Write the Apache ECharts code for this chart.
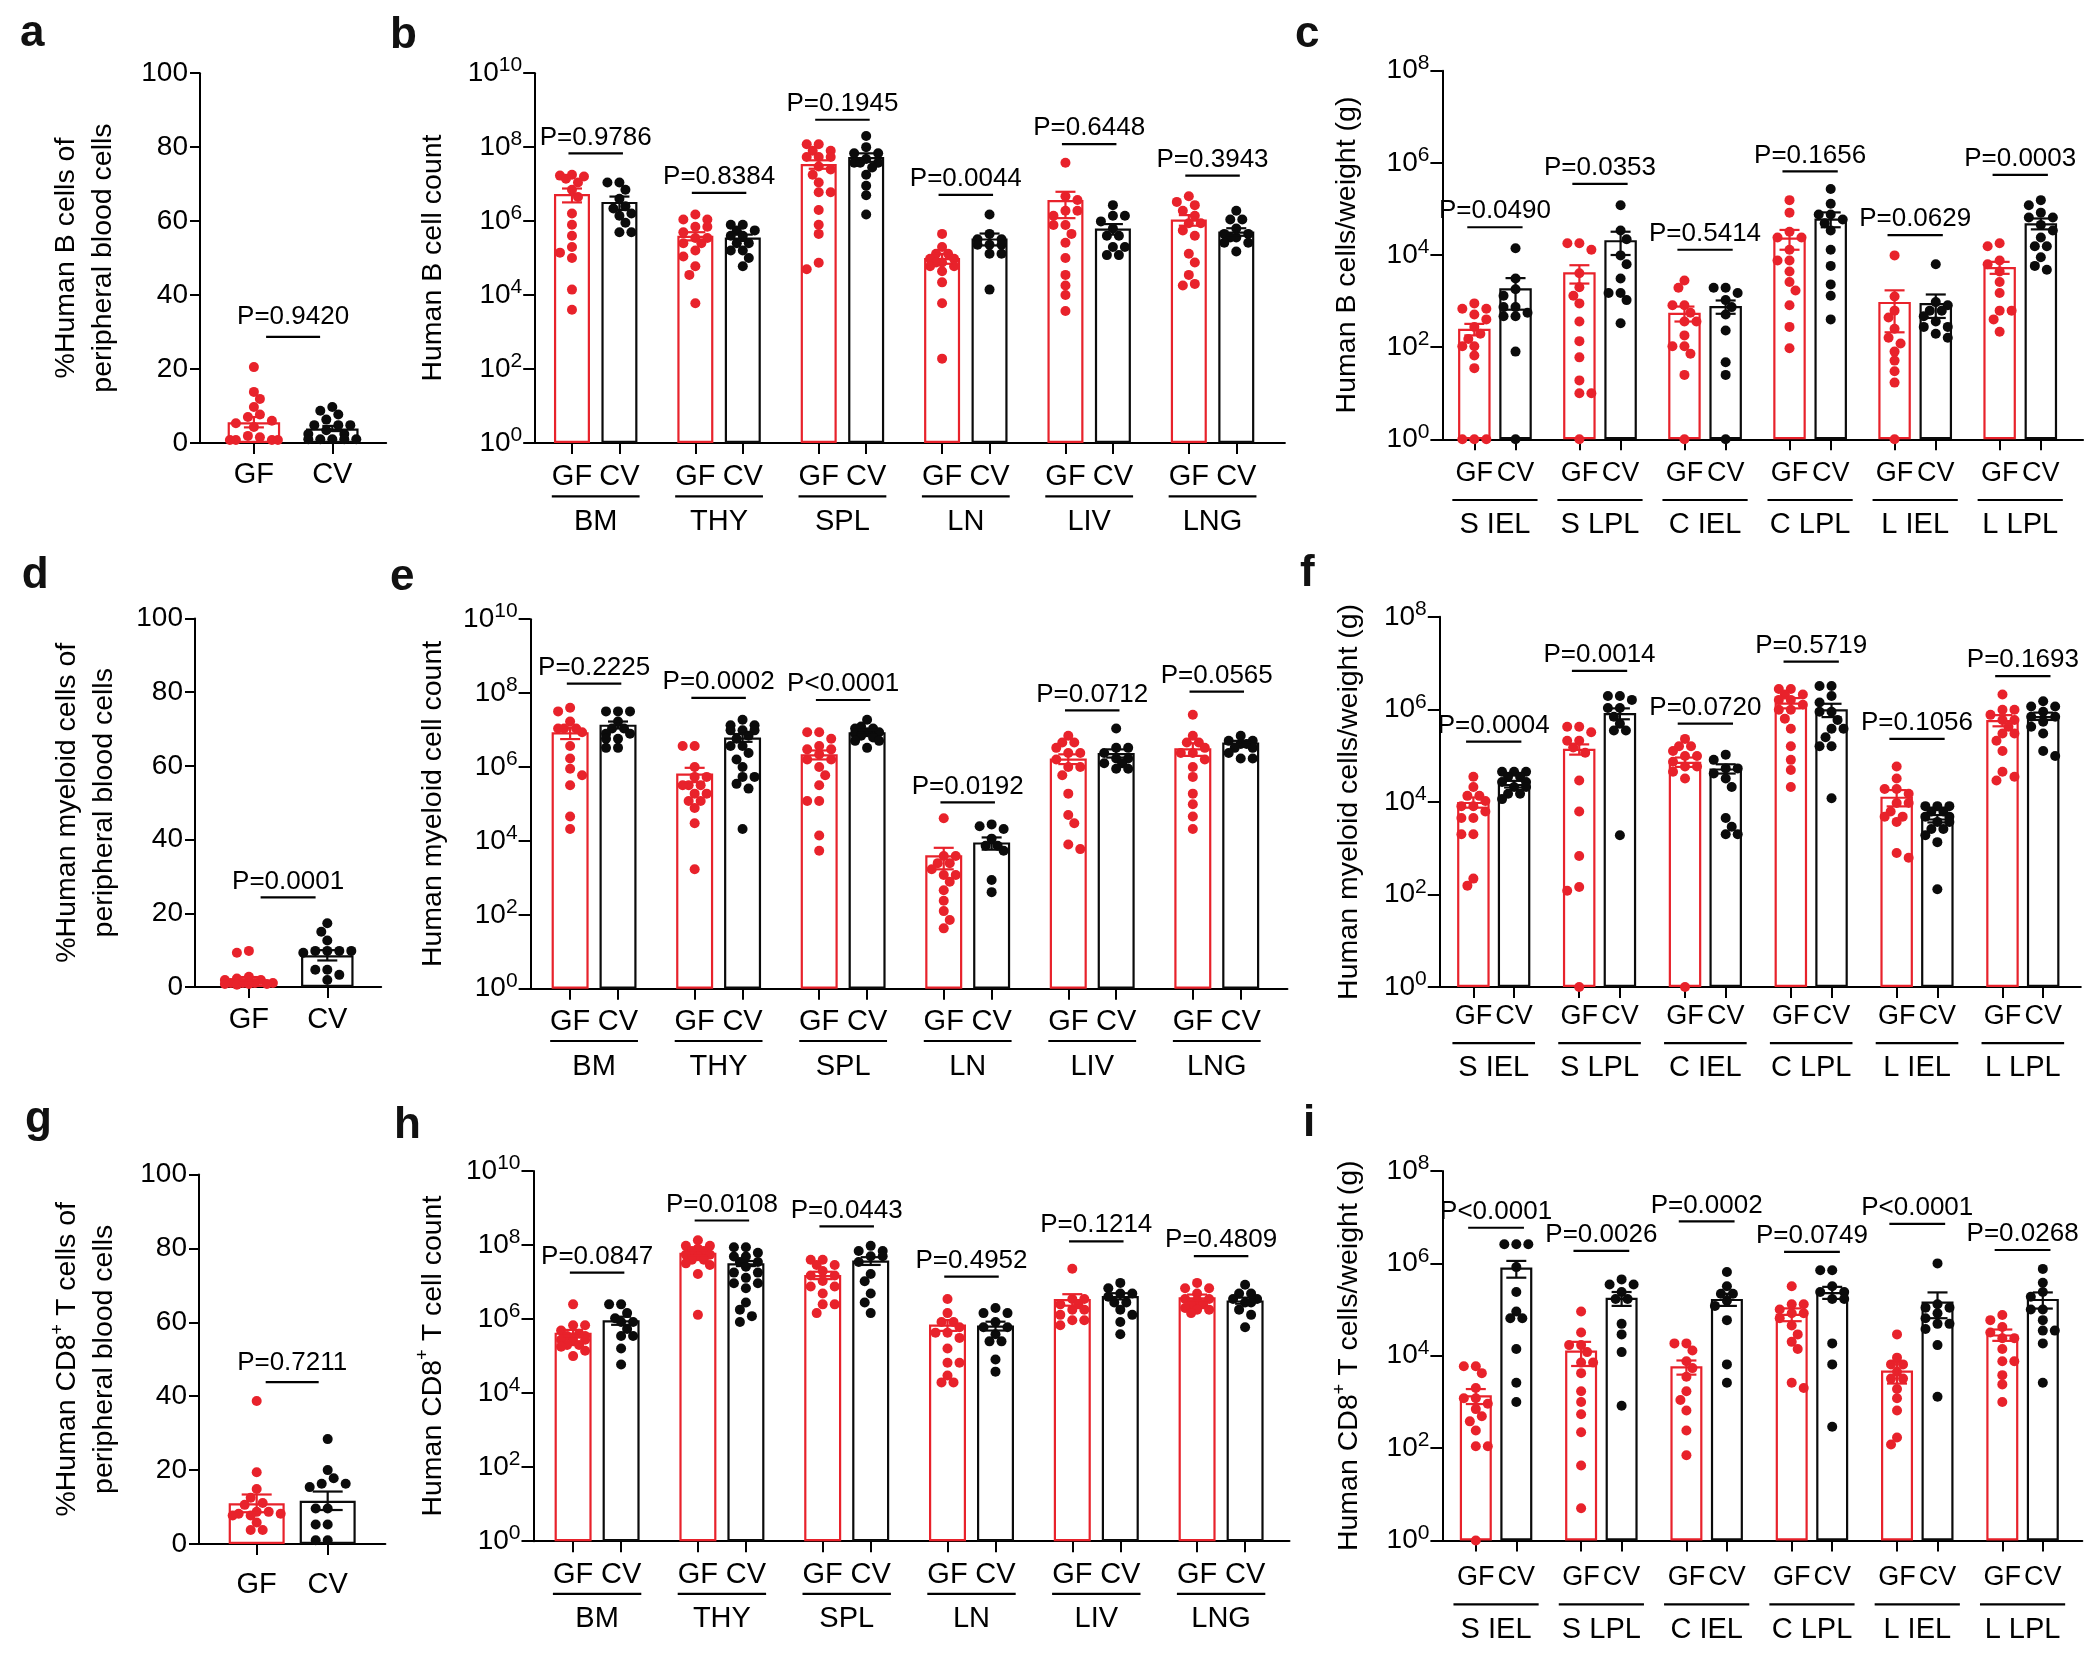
<!DOCTYPE html>
<html>
<head>
<meta charset="utf-8">
<script src="https://cdn.jsdelivr.net/npm/echarts@6/dist/echarts.min.js"></script>
<style>
html,body{margin:0;padding:0;background:#fff;}
#chart{width:2100px;height:1657px;}
</style>
</head>
<body>
<div id="chart"></div>
<script>
// ================= DATA =================
const bloodGroups = ['GF', 'CV'];
const organs = ['BM', 'THY', 'SPL', 'LN', 'LIV', 'LNG'];
const gutSites = ['S IEL', 'S LPL', 'C IEL', 'C LPL', 'L IEL', 'L LPL'];

// ---- a: %Human B cells of peripheral blood cells
const aGF = [20.5, 13.8, 11.9, 9.7, 7.7, 7.0, 6.0, 5.3, 4.3, 1.9, 1.5, 0.8, 0.8, 0.8, 0.8];
const aCV = [9.7, 8.7, 7.7, 6.3, 4.8, 4.8, 4.8, 3.4, 2.4, 2.4, 1.0, 1.0, 1.0, 1.0, 1.0];
const aMean = [5.6, 3.9];
const aSem = [1.4, 0.7];
const aP = ['P=0.9420'];
const aPLevel = [28.7];

// ---- d: %Human myeloid cells of peripheral blood cells
const dGF = [9.8, 9.3, 2.8, 2.3, 1.9, 1.9, 1.1, 1.1, 1.1, 1.1, 0.8, 0.8, 0.8, 0.6];
const dCV = [17.3, 15.0, 12.6, 9.8, 9.8, 9.8, 9.8, 9.3, 4.7, 4.7, 3.3, 1.9];
const dMean = [1.9, 8.6];
const dSem = [0.8, 1.4];
const dP = ['P=0.0001'];
const dPLevel = [24.3];

// ---- g: %Human CD8+ T cells of peripheral blood cells
const gGF = [38.7, 19.4, 14.9, 12.5, 11.1, 10.6, 8.7, 8.7, 8.2, 8.2, 7.7, 7.7, 5.8, 3.8, 3.8];
const gCV = [28.4, 20.0, 17.8, 16.3, 16.3, 15.4, 9.6, 9.6, 5.3, 5.3, 1.0, 1.0];
const gMean = [11.0, 11.7];
const gSem = [2.4, 2.5];
const gP = ['P=0.7211'];
const gPLevel = [43.8];

// ---- b: Human B cell count (organs)
const bGF = [
  [1.8e7,1.7e7,1.6e7,1.4e7,1.1e7,7e6,4.5e6,1.6e6,8e5,4e5,2e5,1.4e5,1e5,1.4e4,4e3],
  [1.5e6,1.1e6,1.1e6,7e5,7e5,5e5,3.5e5,3.5e5,2.5e5,2.5e5,1.6e5,1.1e5,6e4,3.5e4,6e3],
  [1.2e8,1.2e8,8e7,8e7,5.4e7,5.4e7,5.4e7,3e7,2.5e7,1.8e7,1.1e7,6e6,6e6,2e6,8e5,4.5e5,7.5e4,5e4],
  [4.5e5,2e5,1.3e5,1.3e5,9.5e4,9.5e4,7.6e4,7.6e4,6e4,6e4,4.4e4,2.2e4,6e3,190],
  [3.8e7,4.7e6,3.7e6,1.9e6,1.9e6,1.4e6,7.8e5,7.8e5,4.5e5,2.6e5,1e5,3.5e4,1.8e4,1e4,3.7e3],
  [4.7e6,3.3e6,2.7e6,1.9e6,1.4e6,8.7e5,8.7e5,5.6e5,4e5,1.3e5,7.6e4,3.5e4,2e4,1.8e4]
];
const bCV = [
  [1.1e7,1.1e7,7e6,4e6,2.5e6,2.2e6,1.6e6,1.4e6,9e5,5e5,5e5],
  [8e5,8e5,5.6e5,5.6e5,4e5,4e5,2.5e5,2.5e5,1.6e5,1.6e5,1e5,6e4],
  [2e8,1e8,6.8e7,6.8e7,4.8e7,3.8e7,3.8e7,3.8e7,2.8e7,1.8e7,9e6,5e6,1.5e6],
  [1.5e6,4.5e5,3.2e5,3.2e5,2.3e5,2.3e5,2.3e5,1.3e5,1.3e5,1.4e4],
  [2.7e6,1.4e6,1.4e6,9.8e5,6.3e5,4e5,4e5,2e5,2e5,1.2e5,1.2e5],
  [1.9e6,1.1e6,1.1e6,6.3e5,4.5e5,4.5e5,3.6e5,3.6e5,2.6e5,2.6e5,1.5e5]
];
const bMeanGF = [5.4e6, 4e5, 3.5e7, 1e5, 3.7e6, 1.1e6];
const bMeanCV = [3.3e6, 3.6e5, 5.4e7, 3.4e5, 6.3e5, 5.2e5];
const bSemGF = [2.2e6, 1e5, 9e6, 3e4, 2.5e6, 3.5e5];
const bSemCV = [1.3e6, 7e4, 1.4e7, 1.2e5, 2e5, 1.2e5];
const bP = ['P=0.9786','P=0.8384','P=0.1945','P=0.0044','P=0.6448','P=0.3943'];
const bPLevel = [6.8e7, 5.8e6, 5.5e8, 5.1e6, 1.2e8, 1.7e7];

// ---- c: Human B cells/weight (g) (gut)
const cGF = [
  [890,680,680,510,400,275,195,150,105,105,66,35,1,1,1],
  [1.8e4,1.8e4,1.3e4,4e3,2e3,1.3e3,890,360,135,60,19,10,10,1],
  [2.8e3,1.95e3,810,810,560,360,360,180,105,105,72,25,1],
  [1.55e5,8.3e4,3.2e4,2.4e4,2.4e4,1.3e4,7.6e3,7.6e3,4.4e3,2.6e3,1.7e3,810,275,95],
  [9.8e3,1.26e3,620,440,250,160,120,80,51,30,17,1],
  [1.8e4,1.55e4,7.6e3,6.3e3,4.4e3,2.6e3,1.5e3,620,620,400,215]
];
const cCV = [
  [1.4e4,3.1e3,1.8e3,1.3e3,740,740,560,470,470,80,1],
  [1.2e5,3.4e4,2.2e4,9.8e3,6.3e3,3.1e3,1.5e3,1.5e3,1.05e3,330],
  [1.95e3,1.95e3,1.5e3,1.05e3,740,510,230,47,25,1],
  [2.7e5,1.3e5,7.6e4,7.6e4,5.9e4,4.9e4,3.4e4,1.3e4,5.8e3,2.3e3,1.3e3,400],
  [6.3e3,950,810,620,620,470,360,275,275,195,160],
  [1.55e5,1.2e5,8.3e4,6.5e4,6.5e4,4.5e4,3.4e4,2.4e4,1.55e4,1.55e4,8.9e3,5.8e3,4.8e3]
];
const cMeanGF = [250, 4.2e3, 560, 2.4e4, 960, 5.5e3];
const cMeanCV = [1.9e3, 2.1e4, 780, 6.2e4, 910, 4.9e4];
const cSemGF = [70, 1.8e3, 200, 1.1e4, 750, 1.6e3];
const cSemCV = [1.25e3, 1.1e4, 250, 2.2e4, 480, 1.3e4];
const cP = ['P=0.0490','P=0.0353','P=0.5414','P=0.1656','P=0.0629','P=0.0003'];
const cPLevel = [4e4, 3.5e5, 1.3e4, 6.5e5, 2.7e4, 5.5e5];

// ---- e: Human myeloid cell count (organs)
const eGF = [
  [4e7,3.2e7,1.7e7,1.1e7,1.1e7,1.1e7,8.7e6,3.7e6,1.7e6,9e5,6e5,3.2e5,4.6e4,2.1e4],
  [3.7e6,3.7e6,1e6,5.4e5,5.4e5,3.2e5,3.2e5,3.2e5,1.9e5,1.9e5,1.2e5,1.2e5,7.8e4,3e4,1.7e3],
  [8.7e6,8.7e6,5.8e6,3.7e6,3e6,3e6,2.2e6,1.6e6,1.6e6,1e6,6e5,3.2e5,1.2e5,1.2e5,1.4e4,5.4e3],
  [4.1e4,3.9e3,3.9e3,2.5e3,2.5e3,1.7e3,1.2e3,1.2e3,780,460,240,126,72,43],
  [7e6,4.6e6,4.6e6,3.3e6,2.4e6,2.4e6,1.6e6,1e6,1e6,6e5,1.9e5,5e4,3e4,8e3,6e3],
  [2.6e7,7e6,4.6e6,4.6e6,3.3e6,2.4e6,2.4e6,1.6e6,1e6,5.4e5,1.9e5,9.8e4,4.6e4,2.1e4]
];
const eCV = [
  [3.2e7,3.2e7,3.2e7,1.7e7,1.1e7,1.1e7,8e6,8e6,5.8e6,5.8e6,3.3e6,3.3e6],
  [1.9e7,1.35e7,1.35e7,9.8e6,9.8e6,9.8e6,7e6,5.8e6,3.7e6,3.7e6,2.4e6,1.6e6,1e6,5.4e5,5.4e5,3.5e5,2.6e5,2.1e4],
  [1.9e7,1.25e7,1.1e7,1.1e7,8.7e6,8.7e6,8e6,7e6,6.3e6,5.1e6,5.1e6,3.3e6],
  [2.8e4,2.5e4,2.1e4,1.15e4,7.4e3,7.4e3,5.4e3,870,410],
  [1.1e7,3.3e6,3.3e6,2.4e6,1.7e6,1.7e6,1.26e6,1.26e6,9e5,9e5],
  [7e6,5.1e6,5.1e6,4.2e6,4.2e6,3.3e6,3.3e6,2.4e6,1.7e6,1.7e6]
];
const eMeanGF = [8.7e6, 6.7e5, 2.2e6, 4.1e3, 1.7e6, 3.2e6];
const eMeanCV = [1.4e7, 6.3e6, 8.7e6, 9.1e3, 2.4e6, 4.6e6];
const eSemGF = [3e6, 2.8e5, 6e5, 2.4e3, 5e5, 1.2e6];
const eSemCV = [3e6, 1.5e6, 1.3e6, 3.3e3, 6e5, 5e5];
const eP = ['P=0.2225','P=0.0002','P<0.0001','P=0.0192','P=0.0712','P=0.0565'];
const ePLevel = [1.8e8, 7.4e7, 6.5e7, 1.1e5, 3.4e7, 1.1e8];

// ---- f: Human myeloid cells/weight (g) (gut)
const fGF = [
  [3.5e4,2.1e4,1.35e4,1.35e4,1.05e4,8.1e3,8.1e3,6.2e3,4.5e3,4.5e3,2e3,2e3,220,155],
  [4.2e5,4.2e5,3.2e5,2.1e5,2.1e5,1.5e5,1.15e5,2.9e4,6.2e3,680,145,120,1],
  [2.3e5,1.6e5,1.6e5,1.26e5,9.8e4,9.8e4,7.4e4,5.8e4,5.8e4,4.5e4,3.2e4,1],
  [2.75e6,2.75e6,2.1e6,2.1e6,1.6e6,1.6e6,1.26e6,9.8e5,9.8e5,6.3e5,3.8e5,1.6e5,8.1e4,4.9e4,2.1e4],
  [5.8e4,3.2e4,1.9e4,1.9e4,1.5e4,9.5e3,9.5e3,6.2e3,4.8e3,4.8e3,3.7e3,790,620],
  [2.1e6,9.8e5,9.8e5,7.6e5,5.9e5,5.9e5,4.2e5,3e5,3e5,2.1e5,1.26e5,4.5e4,3.5e4,2.9e4]
];
const fCV = [
  [4.5e4,4.5e4,4.5e4,3.5e4,3.5e4,2.7e4,2.7e4,2.1e4,2.1e4,1.5e4,1.5e4,1.15e4],
  [1.95e6,1.95e6,1.6e6,1.07e6,1.07e6,6.9e5,4.9e5,3.5e5,3.5e5,1.9e3],
  [1.05e5,8.1e4,5.3e4,5.3e4,4.1e4,3.2e4,2.1e4,4.5e3,2.9e3,2e3,2e3],
  [3.2e6,3.2e6,1.95e6,1.4e6,8.9e5,8.9e5,5.9e5,3.8e5,3.8e5,2.5e5,1.6e5,1.6e5,1.2e4],
  [8.1e3,8.1e3,8.1e3,6.2e3,6.2e3,4.8e3,4.8e3,3.7e3,3.7e3,2.6e3,2.6e3,1.9e3,1.35e3,130],
  [1.5e6,1.15e6,1.15e6,8.9e5,6.9e5,6.9e5,5.4e5,4.2e5,3e5,1.26e5,9.8e4]
];
const fMeanGF = [1e4, 1.4e5, 7.4e4, 1.4e6, 1.3e4, 5.9e5];
const fMeanCV = [2.45e4, 8.3e5, 5.3e4, 1e6, 4.4e3, 7.2e5];
const fSemGF = [2.5e3, 3.5e4, 1.7e4, 3.5e5, 5e3, 1.6e5];
const fSemCV = [4e3, 2.2e5, 1.2e4, 3.2e5, 8e2, 1.3e5];
const fP = ['P=0.0004','P=0.0014','P=0.0720','P=0.5719','P=0.1056','P=0.1693'];
const fPLevel = [2e5, 6.8e6, 4.9e5, 1.07e7, 2.3e5, 5.2e6];

// ---- h: Human CD8+ T cell count (organs)
const hGF = [
  [2.5e6,6.8e5,6.8e5,4.9e5,4e5,3.5e5,3.5e5,3.2e5,2.75e5,2.75e5,2.5e5,2e5,2e5,1.8e5,1.4e5,1e5],
  [1.35e8,9.5e7,9.5e7,8e7,6.9e7,6.9e7,5.5e7,5.5e7,5e7,4e7,4e7,3.2e7,2.9e7,1.66e7,1.3e6],
  [4e7,4e7,2.9e7,2.9e7,2e7,1.5e7,1.5e7,1.07e7,7.6e6,7.6e6,4.9e6,2.5e6,2.5e6,1.45e6],
  [3.5e6,1.45e6,8.3e5,8.3e5,6e5,4.3e5,4.3e5,3.1e5,1.6e5,6.6e4,6.6e4,3e4,1.95e4,1.95e4],
  [2.3e7,3.5e6,3.5e6,2.5e6,2.5e6,1.8e6,1.8e6,1.3e6,9.3e5,9.3e5,6.8e5],
  [9.5e6,6.8e6,6.8e6,4.9e6,3.5e6,3.5e6,3.2e6,2.5e6,2.5e6,2e6,1.8e6,1.8e6,1.45e6]
];
const hCV = [
  [2.5e6,2.5e6,1.45e6,1.05e6,8.3e5,8.3e5,5.4e5,3.5e5,3.5e5,1.6e5,5.9e4],
  [8.7e7,8.7e7,6.2e7,4.9e7,4.9e7,3.5e7,3.5e7,2.6e7,1.8e7,1.8e7,1.3e7,9.3e6,9.3e6,6.8e6,2.8e6,1.8e6,1.2e6,8.3e5],
  [9.5e7,6.9e7,6.9e7,5e7,5e7,3.5e7,1.66e7,1.05e7,4.9e6,2.8e6,1.45e6],
  [2e6,1.45e6,1.45e6,8.3e5,6e5,6e5,3.9e5,2.5e5,2.5e5,8.1e4,3.8e4],
  [9.5e6,6.8e6,4.9e6,4.9e6,4e6,2.8e6,2.8e6,1.8e6,1.3e6,8.3e5,3.9e5],
  [8.5e6,4.9e6,4.9e6,3.5e6,3.5e6,2.8e6,2.8e6,1.8e6,1.3e6,6e5]
];
const hMeanGF = [4.3e5, 6.2e7, 1.55e7, 7.1e5, 3.5e6, 3.9e6];
const hMeanCV = [9.3e5, 3.2e7, 3.8e7, 6.7e5, 4.2e6, 3.2e6];
const hSemGF = [8e4, 1e7, 3.5e6, 2.3e5, 1.2e6, 7e5];
const hSemCV = [2.3e5, 5e6, 9e6, 1.8e5, 8e5, 6e5];
const hP = ['P=0.0847','P=0.0108','P=0.0443','P=0.4952','P=0.1214','P=0.4809'];
const hPLevel = [1.8e7, 4.6e8, 3.2e8, 1.4e7, 1.26e8, 5e7];

// ---- i: Human CD8+ T cells/weight (g) (gut)
const iGF = [
  [5.9e3,5.9e3,4.2e3,2e3,1.2e3,1.2e3,910,700,490,380,240,110,110,1],
  [9.1e4,3.2e4,1.7e4,1.7e4,1.2e4,7.1e3,7.1e3,4.2e3,1.7e3,1e3,540,220,42,5],
  [1.85e4,1.85e4,1.3e4,7.6e3,5.4e3,3.5e3,1.7e3,1.1e3,650,240,70],
  [3.2e5,1.3e5,1.3e5,1e5,8.3e4,8.3e4,6.5e4,4.5e4,2.9e4,2e4,1.4e4,2.6e3,2e3],
  [2.9e4,9.1e3,6.5e3,6.5e3,4.5e3,3.2e3,3.2e3,1.9e3,1.2e3,650,170,120],
  [7.6e4,5.9e4,4.2e4,3.2e4,2.4e4,2.4e4,1.4e4,7.6e3,7.6e3,3.8e3,2.4e3,1e3]
];
const iCV = [
  [2.6e6,2.6e6,2.6e6,8.3e5,2.4e5,9.1e4,6.5e4,6.5e4,1.4e4,2.6e3,1e3],
  [4.5e5,3.5e5,3.5e5,2.4e5,1.7e5,1.7e5,4.9e4,2.9e4,1.2e4,830],
  [6.5e5,3.2e5,2.2e5,2.2e5,1.55e5,1.2e5,5.9e4,6.5e3,2.6e3],
  [7.1e5,7.1e5,3.2e5,2.4e5,2.4e5,1.7e5,1.7e5,1.85e4,6.5e3,290],
  [1e6,1.3e5,1.1e5,1.1e5,8.3e4,6.5e4,4.9e4,4.9e4,3.8e4,1.7e4,1.3e3],
  [7.6e5,3.8e5,2.4e5,1.9e5,1e5,1e5,5.9e4,3.5e4,3.5e4,1.85e4,2.6e3]
];
const iMeanGF = [1.4e3, 1.3e4, 5.9e3, 8.1e4, 4.8e3, 2.9e4];
const iMeanCV = [8.1e5, 1.8e5, 1.7e5, 2.4e5, 1.5e5, 1.7e5];
const iSemGF = [500, 7e3, 2e3, 2.5e4, 2.3e3, 8e3];
const iSemCV = [3.2e5, 6e4, 5e4, 7e4, 8.5e4, 6.5e4];
const iP = ['P<0.0001','P=0.0026','P=0.0002','P=0.0749','P<0.0001','P=0.0268'];
const iPLevel = [5.9e6, 1.86e6, 8.1e6, 1.78e6, 7.2e6, 1.95e6];

// ================= STYLE / LAYOUT =================
const FONT = "'Liberation Sans', Arial, Helvetica, sans-serif";
const RED = '#E8222B';
const BLACK = '#0b0b0b';

const option = {
  animation: false,
  backgroundColor: '#ffffff',
  grid: [], xAxis: [], yAxis: [], series: [], graphic: []
};

function swarm(vals, toPx, d, maxOff) {
  const order = vals.map((v, i) => i).sort((a, b) => vals[b] - vals[a]);
  const placed = [];
  const offs = new Array(vals.length).fill(0);
  const step = d * 0.6, minD = d * 0.9;
  order.forEach((i, n) => {
    const y = toPx(vals[i]);
    const sgn = n % 2 ? -1 : 1;
    const cands = [0];
    for (let k = 1; k * step <= maxOff + 0.01; k++) cands.push(sgn * k * step, -sgn * k * step);
    let best = 0, bestCost = Infinity;
    for (const c of cands) {
      let ov = 0;
      for (const p of placed) {
        const dd = Math.hypot(p.x - c, p.y - y);
        if (dd < minD) ov += minD - dd;
      }
      if (ov === 0) { best = c; break; }
      const cost = ov + Math.abs(c) * 0.001;
      if (cost < bestCost) { bestCost = cost; best = c; }
    }
    offs[i] = best;
    placed.push({ x: best, y: y });
  });
  return offs;
}

function addPanel(P) {
  const gi = option.grid.length;
  const u = P.within / P.sub;
  const N = Math.round(P.width / u);
  const W = N * u;
  const nG = P.gf.length;
  const start = Math.round(P.gf0 / u - 0.5);
  const step = nG > 1 ? Math.round(P.pair / u) : 0;
  const gfI = [], cvI = [];
  for (let k = 0; k < nG; k++) { gfI.push(start + k * step); cvI.push(start + k * step + P.sub); }
  const isLog = P.yType === 'log';
  const yMin = isLog ? 1 : 0;
  const multi = !!P.groups;

  option.grid.push({ left: P.left, top: P.top, width: W, height: P.height, containLabel: false });

  // category axis carrying the GF / CV ticks and labels
  const labels = new Array(N).fill('');
  gfI.forEach(i => labels[i] = bloodGroups[0]);
  cvI.forEach(i => labels[i] = bloodGroups[1]);
  const xCat = option.xAxis.length;
  option.xAxis.push({
    type: 'category', gridIndex: gi, position: 'bottom', data: labels, boundaryGap: true,
    axisLine: { show: true, lineStyle: { color: '#000', width: 2 } },
    axisTick: { show: true, alignWithLabel: true, interval: (i) => labels[i] !== '', length: 11,
                lineStyle: { color: '#000', width: 2 } },
    axisLabel: { show: true, interval: (i) => labels[i] !== '', margin: P.labM, color: '#000',
                 fontSize: P.labFs || 29, fontFamily: FONT, showMinLabel: true, showMaxLabel: true, hideOverlap: false },
    splitLine: { show: false }
  });
  // organ / gut-site labels centred under each pair
  if (multi) {
    const gl = new Array(N).fill('');
    gfI.forEach((i, k) => gl[i + P.sub / 2] = P.groups[k]);
    option.xAxis.push({
      type: 'category', gridIndex: gi, position: 'bottom', data: gl, boundaryGap: true,
      axisLine: { show: false }, axisTick: { show: false }, splitLine: { show: false },
      axisLabel: { show: true, interval: (i) => gl[i] !== '', margin: P.orgM, color: '#000',
                   fontSize: 29, fontFamily: FONT, showMinLabel: true, showMaxLabel: true, hideOverlap: false }
    });
  }
  // hidden continuous axis for dots / error bars / annotations
  const xVal = option.xAxis.length;
  option.xAxis.push({ type: 'value', gridIndex: gi, min: 0, max: N, show: false, position: 'top' });

  const yi = option.yAxis.length;
  const yAx = {
    gridIndex: gi, name: P.yName, nameLocation: 'middle', nameGap: P.nameGap, nameRotate: 90,
    nameMoveOverlap: false,
    nameTextStyle: { fontSize: 28.5, fontFamily: FONT, color: '#000', lineHeight: 37, align: 'center',
      rich: { s: { fontSize: 18, lineHeight: 20, verticalAlign: 'top', fontFamily: FONT, color: '#000' } } },
    axisLine: { show: true, lineStyle: { color: '#000', width: 2 } },
    axisTick: { show: true, length: P.yTick, lineStyle: { color: '#000', width: 2 } },
    splitLine: { show: false }, minorTick: { show: false }
  };
  if (isLog) {
    Object.assign(yAx, {
      type: 'log', logBase: 100, min: 1, max: P.yMax, splitNumber: Math.round(Math.log10(P.yMax) / 2),
      axisLabel: {
        margin: 13,
        formatter: v => '{b|10}{e|' + Math.round(Math.log10(v)) + '}',
        rich: {
          b: { fontSize: 28, lineHeight: 36, fontFamily: FONT, color: '#000' },
          e: { fontSize: 21, lineHeight: 20, verticalAlign: 'top', fontFamily: FONT, color: '#000' }
        }
      }
    });
  } else {
    Object.assign(yAx, {
      type: 'value', min: 0, max: P.yMax, interval: 20,
      axisLabel: { margin: 12, fontSize: 28, fontFamily: FONT, color: '#000' }
    });
  }
  option.yAxis.push(yAx);

  const toPx = isLog
    ? v => P.height * (1 - Math.log10(Math.max(v, 1)) / Math.log10(P.yMax))
    : v => P.height * (1 - v / P.yMax);

  // bars (means)
  const barData = new Array(N).fill('-');
  for (let k = 0; k < nG; k++) {
    barData[gfI[k]] = { value: P.meanGF[k], itemStyle: { borderColor: RED } };
    barData[cvI[k]] = { value: P.meanCV[k], itemStyle: { borderColor: BLACK } };
  }
  option.series.push({
    type: 'bar', xAxisIndex: xCat, yAxisIndex: yi, barWidth: P.barW, silent: true, z: 1,
    itemStyle: { color: 'rgba(255,255,255,0)', borderWidth: 2.2 }, data: barData
  });

  // dots
  const dotsGF = [], dotsCV = [];
  for (let k = 0; k < nG; k++) {
    const og = swarm(P.gf[k], toPx, P.dot, P.maxOff);
    P.gf[k].forEach((v, j) => dotsGF.push([gfI[k] + 0.5 + og[j] / u, v]));
    const oc = swarm(P.cv[k], toPx, P.dot, P.maxOff);
    P.cv[k].forEach((v, j) => dotsCV.push([cvI[k] + 0.5 + oc[j] / u, v]));
  }
  option.series.push({ type: 'scatter', xAxisIndex: xVal, yAxisIndex: yi, symbol: 'circle',
    symbolSize: P.dot, itemStyle: { color: RED, opacity: 1 }, data: dotsGF, z: 3, silent: true });
  option.series.push({ type: 'scatter', xAxisIndex: xVal, yAxisIndex: yi, symbol: 'circle',
    symbolSize: P.dot, itemStyle: { color: BLACK, opacity: 1 }, data: dotsCV, z: 3, silent: true });

  // error bars (mean ± SEM)
  const errData = [];
  for (let k = 0; k < nG; k++) {
    errData.push([gfI[k] + 0.5, P.meanGF[k], P.semGF[k], 0]);
    errData.push([cvI[k] + 0.5, P.meanCV[k], P.semCV[k], 1]);
  }
  option.series.push({
    type: 'custom', xAxisIndex: xVal, yAxisIndex: yi, clip: false, silent: true, z: 4,
    encode: { x: 0, y: 1 }, data: errData,
    renderItem: (params, api) => {
      const x = api.value(0), m = api.value(1), s = api.value(2);
      const col = api.value(3) === 0 ? RED : BLACK;
      const hi = api.coord([x, m + s]);
      const lo = api.coord([x, Math.max(m - s, yMin)]);
      const h = P.capW / 2;
      const st = { stroke: col, lineWidth: 2.2 };
      return { type: 'group', children: [
        { type: 'line', shape: { x1: hi[0], y1: hi[1], x2: lo[0], y2: lo[1] }, style: st },
        { type: 'line', shape: { x1: hi[0] - h, y1: hi[1], x2: hi[0] + h, y2: hi[1] }, style: st },
        { type: 'line', shape: { x1: lo[0] - h, y1: lo[1], x2: lo[0] + h, y2: lo[1] }, style: st }
      ] };
    }
  });

  // P value annotations
  const pData = [];
  for (let k = 0; k < nG; k++) pData.push([(gfI[k] + cvI[k]) / 2 + 0.5, P.pLevel[k], k]);
  option.series.push({
    type: 'custom', xAxisIndex: xVal, yAxisIndex: yi, clip: false, silent: true, z: 5,
    encode: { x: 0, y: 1 }, data: pData,
    renderItem: (params, api) => {
      const c = api.coord([api.value(0), api.value(1)]);
      const h = P.pLineW / 2;
      return { type: 'group', children: [
        { type: 'line', shape: { x1: c[0] - h, y1: c[1], x2: c[0] + h, y2: c[1] },
          style: { stroke: '#000', lineWidth: 2.2 } },
        { type: 'text', x: c[0], y: c[1] - P.pGap,
          style: { text: P.pLabels[api.value(2)], fontSize: 26, fontFamily: FONT, fill: '#000',
                   align: 'center', verticalAlign: 'bottom' } }
      ] };
    }
  });

  // underline of each GF/CV pair
  if (multi) {
    const uData = [];
    for (let k = 0; k < nG; k++) uData.push([(gfI[k] + cvI[k]) / 2 + 0.5, yMin]);
    option.series.push({
      type: 'custom', xAxisIndex: xVal, yAxisIndex: yi, clip: false, silent: true, z: 5,
      encode: { x: 0, y: 1 }, data: uData,
      renderItem: (params, api) => {
        const c = api.coord([api.value(0), api.value(1)]);
        const h = P.ulLen / 2;
        return { type: 'line', shape: { x1: c[0] - h, y1: c[1] + P.ulY, x2: c[0] + h, y2: c[1] + P.ulY },
                 style: { stroke: '#000', lineWidth: 2.2 } };
      }
    });
  }

  // panel letter
  option.graphic.push({ type: 'text', x: P.lx, y: P.lb - 15.3, silent: true,
    style: { text: P.letter, fontSize: 44, fontWeight: 'bold', fontFamily: FONT, fill: '#111',
             verticalAlign: 'middle', align: 'left' } });
}

const simpleCommon = { sub: 8, yType: 'value', yMax: 100, yTick: 10,
  barW: 52.5, dot: 10, maxOff: 24, capW: 20 };
const multiCommon = { sub: 20, yType: 'log', yTick: 12,
  dot: 10, capW: 20, pGap: 3 };

// ---- row 1
addPanel(Object.assign({}, simpleCommon, {
  letter: 'a', lx: 20, lb: 49.5, left: 200, top: 73.2, width: 186.7, height: 369.7, gf0: 53.3, within: 78.4,
  gf: [aGF], cv: [aCV], meanGF: [aMean[0]], meanCV: [aMean[1]], semGF: [aSem[0]], semCV: [aSem[1]],
  pLabels: aP, pLevel: aPLevel, pLineW: 54, pGap: 7, labM: 18, nameGap: 78,
  yName: '%Human B cells of\nperipheral blood cells'
}));
addPanel(Object.assign({}, multiCommon, {
  letter: 'b', lx: 390, lb: 51.5, left: 535.2, top: 73.2, width: 750.2, height: 369.7,
  gf0: 37.3, pair: 123.6, within: 47.45, yMax: 1e10, groups: organs, barW: 36, maxOff: 16,
  gf: bGF, cv: bCV, meanGF: bMeanGF, meanCV: bMeanCV, semGF: bSemGF, semCV: bSemCV,
  pLabels: bP, pLevel: bPLevel, pLineW: 54.5, labM: 19.7, orgM: 64.4, ulY: 53.5, ulLen: 87.8, nameGap: 83.7,
  yName: 'Human B cell count'
}));
addPanel(Object.assign({}, multiCommon, {
  letter: 'c', lx: 1295, lb: 50, left: 1442.4, top: 70.7, width: 640.6, height: 368.6,
  gf0: 32, pair: 105.4, within: 41.2, yMax: 1e8, groups: gutSites, barW: 32.5, maxOff: 14.5, labFs: 27,
  gf: cGF, cv: cCV, meanGF: cMeanGF, meanCV: cMeanCV, semGF: cSemGF, semCV: cSemCV,
  pLabels: cP, pLevel: cPLevel, pLineW: 55.3, labM: 20.5, orgM: 71.6, ulY: 60.7, ulLen: 85.2, nameGap: 77,
  yName: 'Human B cells/weight (g)'
}));
// ---- row 2
addPanel(Object.assign({}, simpleCommon, {
  letter: 'd', lx: 21.7, lb: 591, left: 195, top: 618.5, width: 186.7, height: 368.5, gf0: 53.3, within: 78.4,
  gf: [dGF], cv: [dCV], meanGF: [dMean[0]], meanCV: [dMean[1]], semGF: [dSem[0]], semCV: [dSem[1]],
  pLabels: dP, pLevel: dPLevel, pLineW: 55, pGap: 3, labM: 18.7, nameGap: 72,
  yName: '%Human myeloid cells of\nperipheral blood cells'
}));
addPanel(Object.assign({}, multiCommon, {
  letter: 'e', lx: 390, lb: 592.7, left: 530.6, top: 619.2, width: 757.7, height: 369.5,
  gf0: 40.2, pair: 125.1, within: 47.9, yMax: 1e10, groups: organs, barW: 37, maxOff: 16,
  gf: eGF, cv: eCV, meanGF: eMeanGF, meanCV: eMeanCV, semGF: eSemGF, semCV: eSemCV,
  pLabels: eP, pLevel: ePLevel, pLineW: 54.5, labM: 18.7, orgM: 63.5, ulY: 52.3, ulLen: 87.8, nameGap: 79,
  yName: 'Human myeloid cell count'
}));
addPanel(Object.assign({}, multiCommon, {
  letter: 'f', lx: 1300, lb: 589.3, left: 1439.8, top: 616.8, width: 640.6, height: 370.2,
  gf0: 33.6, pair: 105.1, within: 40.7, yMax: 1e8, groups: gutSites, barW: 32.5, maxOff: 14.5, labFs: 27,
  gf: fGF, cv: fCV, meanGF: fMeanGF, meanCV: fMeanCV, semGF: fSemGF, semCV: fSemCV,
  pLabels: fP, pLevel: fPLevel, pLineW: 55.3, labM: 16, orgM: 66.9, ulY: 56.1, ulLen: 82.6, nameGap: 72,
  yName: 'Human myeloid cells/weight (g)'
}));
// ---- row 3
addPanel(Object.assign({}, simpleCommon, {
  letter: 'g', lx: 25, lb: 1135.6, left: 199, top: 1174.6, width: 186, height: 369.4, gf0: 56, within: 71,
  gf: [gGF], cv: [gCV], meanGF: [gMean[0]], meanCV: [gMean[1]], semGF: [gSem[0]], semCV: [gSem[1]],
  pLabels: gP, pLevel: gPLevel, pLineW: 53, pGap: 6.5, capW: 30, labM: 26.8, nameGap: 76, barW: 56,
  yName: '%Human CD8{s|+} T cells of\nperipheral blood cells'
}));
addPanel(Object.assign({}, multiCommon, {
  letter: 'h', lx: 394, lb: 1140.9, left: 533.5, top: 1171, width: 754.8, height: 370.2,
  gf0: 39, pair: 124.2, within: 48, yMax: 1e10, groups: organs, barW: 37, maxOff: 16,
  gf: hGF, cv: hCV, meanGF: hMeanGF, meanCV: hMeanCV, semGF: hSemGF, semCV: hSemCV,
  pLabels: hP, pLevel: hPLevel, pLineW: 54.5, labM: 19, orgM: 63.4, ulY: 52.6, ulLen: 88.4, nameGap: 82,
  yName: 'Human CD8{s|+} T cell count'
}));
addPanel(Object.assign({}, multiCommon, {
  letter: 'i', lx: 1303, lb: 1139, left: 1442.4, top: 1171, width: 640.6, height: 369.5,
  gf0: 33.6, pair: 105.1, within: 40.5, yMax: 1e8, groups: gutSites, barW: 32, maxOff: 14.5, labFs: 27,
  gf: iGF, cv: iCV, meanGF: iMeanGF, meanCV: iMeanCV, semGF: iSemGF, semCV: iSemCV,
  pLabels: iP, pLevel: iPLevel, pLineW: 55.8, labM: 24, orgM: 74.7, ulY: 63.9, ulLen: 85.2, nameGap: 74.5,
  yName: 'Human CD8{s|+} T cells/weight (g)'
}));

const chart = echarts.init(document.getElementById('chart'), null, { renderer: 'canvas', width: 2100, height: 1657 });
chart.setOption(option);
</script>
</body>
</html>
